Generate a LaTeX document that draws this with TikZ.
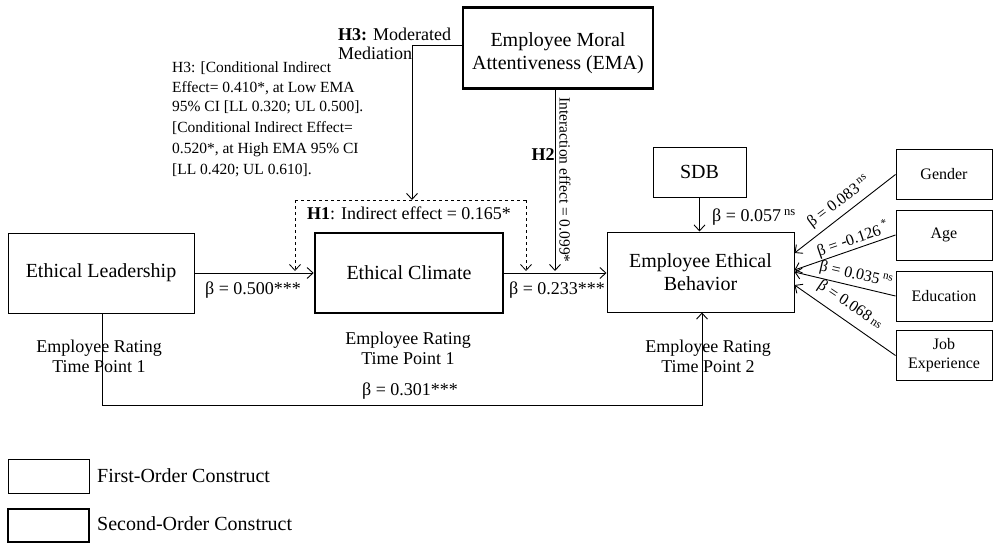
\documentclass[tikz,border=0pt]{standalone}
\usepackage{fontspec}
\setmainfont{Liberation Serif}
\usetikzlibrary{arrows.meta}
\begin{document}
\begin{tikzpicture}[x=1pt,y=-1pt,
  thinbox/.style={draw,line width=1pt,inner sep=2pt,align=center,font=\fontsize{20}{23}\selectfont},
  thickbox/.style={thinbox,line width=2.6pt},
  ctrlbox/.style={draw,line width=1pt,inner sep=2pt,align=center,minimum width=96pt,minimum height=50pt,font=\fontsize{16}{19}\selectfont},
  arr/.style={line width=0.9pt,-{Straight Barb[length=6pt,width=11pt]}},
  lbl/.style={inner sep=0pt,font=\fontsize{18}{20}\selectfont},
  small/.style={inner sep=0pt,align=center,font=\fontsize{18}{20}\selectfont},
  legend/.style={inner sep=0pt,font=\fontsize{20}{22}\selectfont},
  ctrl/.style={inner sep=0pt,font=\fontsize{16}{18}\selectfont},
]
\useasboundingbox (0,0) rectangle (993,544);
% boxes
\node[thinbox,minimum width=186pt,minimum height=80pt] (EL) at (101,273) {Ethical Leadership};
\node[thickbox,minimum width=188pt,minimum height=80pt] (EC) at (409,273) {Ethical Climate};
\node[thinbox,minimum width=187pt,minimum height=80pt] (EEB) at (700.5,272) {Employee Ethical\\Behavior};
\node[thinbox,minimum width=93pt,minimum height=50pt] (SDB) at (699.5,172) {SDB};
\node[thickbox,minimum width=190pt,minimum height=81pt] (EMA) at (558,48) {};
\node[inner sep=0pt,align=center,font=\fontsize{20}{23}\selectfont] (EMAt) at (558,53) {Employee Moral\\Attentiveness (EMA)};
\node[ctrlbox] (G) at (944,174.5) {Gender};
\node[ctrlbox] (A) at (944,235) {Age};
\node[ctrlbox] (E) at (944,296) {Education};
\node[ctrlbox] (J) at (944,355.5) {Job\\Experience};
% main arrows
\draw[arr] (EL.east) -- (EC.west);
\draw[arr] (EC.east) -- (EC.east -| EEB.west);
\draw[arr] (SDB.south) -- (SDB.south |- EEB.north);
\coordinate (b1) at (102,405);
\coordinate (b2) at (702,405);
\draw[arr] (EL.south -| b1) -- (b1) -- (b2) -- (b2 |- EEB.south);
% H2
\coordinate (h2) at (555,271);
\draw[arr] (EMA.south -| h2) -- (h2);
% H3
\coordinate (h3a) at (412,45);
\coordinate (h3b) at (412,200);
\draw[arr] (EMA.west |- h3a) -- (h3a) -- (h3b);
% dashed indirect
\coordinate (d1) at (295,200);
\coordinate (d2) at (526,200);
\coordinate (d1e) at (295,271);
\coordinate (d2e) at (526,271);
\draw[arr,dashed,line width=0.8pt] (d1) -- (d1e);
\draw[arr,dashed,line width=0.8pt] (d2) -- (d2e);
\draw[dashed,line width=0.8pt] (d1) -- (d2);
% controls
\coordinate (g1) at (EEB.east |- 0,253);
\coordinate (a1) at (EEB.east |- 0,270);
\coordinate (e1) at (EEB.east |- 0,272);
\coordinate (j1) at (EEB.east |- 0,285);
\draw[arr] (G.west) -- (g1);
\draw[arr] (A.west) -- (a1);
\draw[arr] (E.west) -- (e1);
\draw[arr] (J.west) -- (j1);
% labels
\node[lbl] (l500) at (253,290) {β = 0.500***};
\node[lbl] (l233) at (557,290) {β = 0.233***};
\node[lbl,anchor=west] (l057) at (712,217) {β = 0.057\,\textsuperscript{ns}};
\node[lbl] (l301) at (410,391) {β = 0.301***};
\node[small] (r1) at (99,356) {Employee Rating\\Time Point 1};
\node[small] (r2) at (408,348) {Employee Rating\\Time Point 1};
\node[small] (r3) at (708,356) {Employee Rating\\Time Point 2};
\node[lbl] (h1) at (409,213) {\textbf{H1}: Indirect effect = 0.165*};
\node[inner sep=0pt,anchor=north west,align=left,font=\fontsize{18}{18.5}\selectfont] (h3) at (338,28) {\textbf{H3:} Moderated\\Mediation};
\node[inner sep=0pt,anchor=north west,align=left,font=\fontsize{15.5}{19.5}\selectfont] (t1) at (172,62) {H3: [Conditional Indirect\\Effect= 0.410*, at Low EMA\\95\% CI [LL 0.320; UL 0.500].};
\node[inner sep=0pt,anchor=north west,align=left,font=\fontsize{15.5}{21}\selectfont] (t2) at (172,121) {[Conditional Indirect Effect=\\0.520*, at High EMA 95\% CI\\{[LL 0.420; UL 0.610].}};
\node[lbl] (h2l) at (543,155) {\textbf{H2}};
\node[inner sep=0pt,rotate=-90,font=\fontsize{15.5}{18}\selectfont] (ie) at (565,180) {Interaction effect = 0.099*};
\node[ctrl,rotate=37] (lg) at (839,202) {β = 0.083\,\textsuperscript{ns}};
\node[ctrl,rotate=19] (la) at (853,239) {β = -0.126\,\textsuperscript{*}};
\node[ctrl,rotate=-13] (le) at (856,275) {β = 0.035\,\textsuperscript{ns}};
\node[ctrl,rotate=-34] (lj) at (850,305) {β = 0.068\,{\fontsize{12}{12}\selectfont ns}};
% legend
\node[draw,line width=1pt,minimum width=81pt,minimum height=34pt,inner sep=0pt] (L1) at (48.5,476) {};
\node[draw,line width=2.6pt,minimum width=81pt,minimum height=33pt,inner sep=0pt] (L2) at (48.5,525.5) {};
\node[legend,anchor=west] (L1t) at (97,476) {First-Order Construct};
\node[legend,anchor=west] (L2t) at (97,524) {Second-Order Construct};
\end{tikzpicture}
\end{document}
